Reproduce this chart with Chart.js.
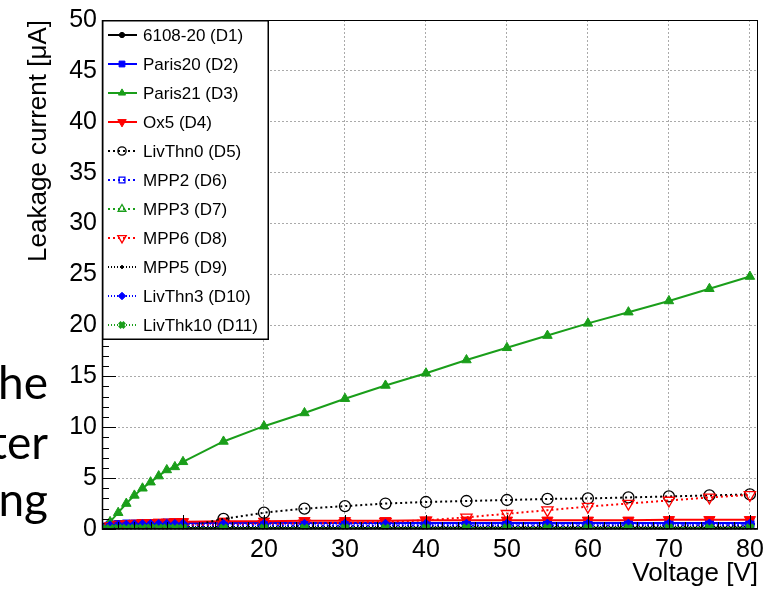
<!DOCTYPE html>
<html>
<head>
<meta charset="utf-8">
<script src="https://cdn.jsdelivr.net/npm/chart.js@4/dist/chart.umd.min.js"></script>
<style>
  body { margin: 0; background: #fff; overflow: hidden; }
  #wrap { position: relative; width: 777px; height: 589px; }
  .slide { position: absolute; right: 729px; width: 200px; text-align: right;
           font-family: Lato, "Liberation Sans", sans-serif; font-size: 46px; line-height: 46px; color: #000; }
</style>
</head>
<body>
<div id="wrap">
  <canvas id="myChart" width="777" height="589"></canvas>
  <div class="slide" style="top:359px">he</div>
  <div class="slide" style="top:419px">ter</div>
  <div class="slide" style="top:476px">ing</div>
</div>
<script>
// bias voltages [V]
const voltages = [0, 1, 2, 3, 4, 5, 6, 7, 8, 9, 10, 15, 20, 25, 30, 35, 40, 45, 50, 55, 60, 65, 70, 75, 80];

// leakage current [uA] per device
const d1_6108_20 = [0.02, 0.04, 0.05, 0.06, 0.06, 0.07, 0.07, 0.08, 0.08, 0.08, 0.09, 0.10, 0.10, 0.11, 0.11, 0.11, 0.12, 0.12, 0.12, 0.12, 0.13, 0.13, 0.13, 0.13, 0.14];
const d2_paris20 = [0.2, 0.4, 0.45, 0.5, 0.5, 0.55, 0.55, 0.55, 0.6, 0.6, 0.6, 0.6, 0.6, 0.6, 0.6, 0.6, 0.6, 0.6, 0.6, 0.6, 0.6, 0.6, 0.6, 0.6, 0.6];
const d3_paris21 = [0.1, 0.7, 1.6, 2.5, 3.3, 4.0, 4.6, 5.2, 5.8, 6.1, 6.6, 8.6, 10.1, 11.4, 12.8, 14.1, 15.3, 16.6, 17.8, 19.0, 20.2, 21.3, 22.4, 23.6, 24.8];
const d4_ox5 = [0.1, 0.3, 0.45, 0.5, 0.55, 0.6, 0.6, 0.65, 0.65, 0.7, 0.7, 0.75, 0.75, 0.8, 0.8, 0.8, 0.85, 0.85, 0.85, 0.85, 0.85, 0.85, 0.9, 0.9, 0.9];
const d5_livthn0 = [0.0, 0.02, 0.03, 0.04, 0.05, 0.06, 0.07, 0.08, 0.09, 0.1, 0.12, 1.0, 1.6, 2.0, 2.25, 2.5, 2.65, 2.75, 2.85, 2.95, 3.0, 3.1, 3.2, 3.3, 3.4];
const d6_mpp2 = [0.05, 0.15, 0.2, 0.22, 0.24, 0.25, 0.26, 0.27, 0.28, 0.29, 0.3, 0.3, 0.32, 0.32, 0.33, 0.33, 0.34, 0.34, 0.35, 0.35, 0.35, 0.36, 0.36, 0.36, 0.37];
const d7_mpp3 = [0.0, 0.02, 0.03, 0.03, 0.04, 0.04, 0.04, 0.05, 0.05, 0.05, 0.05, 0.06, 0.06, 0.06, 0.06, 0.07, 0.07, 0.07, 0.07, 0.07, 0.08, 0.08, 0.08, 0.08, 0.08];
const d8_mpp6 = [0.05, 0.15, 0.2, 0.25, 0.28, 0.3, 0.32, 0.34, 0.36, 0.38, 0.4, 0.45, 0.5, 0.55, 0.6, 0.7, 0.85, 1.15, 1.5, 1.85, 2.2, 2.5, 2.8, 3.1, 3.35];
const d9_mpp5 = [0.03, 0.1, 0.13, 0.15, 0.16, 0.17, 0.18, 0.18, 0.19, 0.19, 0.2, 0.2, 0.21, 0.21, 0.22, 0.22, 0.22, 0.23, 0.23, 0.23, 0.23, 0.24, 0.24, 0.24, 0.25];
const d10_livthn3 = [0.1, 0.3, 0.35, 0.38, 0.4, 0.42, 0.43, 0.44, 0.45, 0.45, 0.46, 0.46, 0.46, 0.46, 0.47, 0.47, 0.47, 0.47, 0.48, 0.48, 0.48, 0.48, 0.48, 0.49, 0.49];
const d11_livthk10 = [0.0, 0.03, 0.04, 0.05, 0.05, 0.06, 0.06, 0.06, 0.07, 0.07, 0.07, 0.07, 0.08, 0.08, 0.08, 0.08, 0.08, 0.09, 0.09, 0.09, 0.09, 0.09, 0.1, 0.1, 0.1];

const deviceLabels = ['6108-20 (D1)', 'Paris20 (D2)', 'Paris21 (D3)', 'Ox5 (D4)', 'LivThn0 (D5)', 'MPP2 (D6)',
  'MPP3 (D7)', 'MPP6 (D8)', 'MPP5 (D9)', 'LivThn3 (D10)', 'LivThk10 (D11)'];
const deviceValues = [d1_6108_20, d2_paris20, d3_paris21, d4_ox5, d5_livthn0, d6_mpp2,
  d7_mpp3, d8_mpp6, d9_mpp5, d10_livthn3, d11_livthk10];

const yTicks = [0, 5, 10, 15, 20, 25, 30, 35, 40, 45, 50];
const xTicks = [20, 30, 40, 50, 60, 70, 80];

const BLACK = '#000000', BLUE = '#0000ff', GREEN = '#1a9e1a', RED = '#ff0000', NONE = 'rgba(0,0,0,0)';
const DOT = [2, 3];
// look of each graph, same order as the labels
const looks = [
  { c: BLACK, dash: [], ps: 'circle', r: 3.5, fill: BLACK, bw: 1 },
  { c: BLUE, dash: [], ps: 'rect', r: 5.5, fill: BLUE, bw: 1 },
  { c: GREEN, dash: [], ps: 'triangle', r: 5.5, fill: GREEN, bw: 1 },
  { c: RED, dash: [], ps: 'triangle', r: 6.5, fill: RED, bw: 1, rot: 180 },
  { c: BLACK, dash: DOT, ps: 'circle', r: 5.5, fill: NONE, bw: 1.3 },
  { c: BLUE, dash: DOT, ps: 'rect', r: 5.5, fill: NONE, bw: 1.3 },
  { c: GREEN, dash: DOT, ps: 'triangle', r: 6, fill: NONE, bw: 1.3 },
  { c: RED, dash: DOT, ps: 'triangle', r: 6.5, fill: NONE, bw: 1.3, rot: 180 },
  { c: BLACK, dash: [1, 2], ps: 'rectRot', r: 2.5, fill: BLACK, bw: 1 },
  { c: BLUE, dash: [1, 2], ps: 'rectRot', r: 5, fill: BLUE, bw: 1 },
  { c: GREEN, dash: [1, 2], ps: 'crossRot', r: 5, fill: GREEN, bw: 3.5 }
];

const datasets = deviceLabels.map((label, i) => {
  const lk = looks[i];
  return {
    label: label,
    data: voltages.map((v, k) => ({ x: v, y: deviceValues[i][k] })),
    borderColor: lk.c,
    borderWidth: 2,
    borderDash: lk.dash,
    pointStyle: lk.ps,
    pointRadius: lk.r,
    pointRotation: lk.rot || 0,
    pointBackgroundColor: lk.fill,
    pointBorderColor: lk.c,
    pointBorderWidth: lk.bw,
    tension: 0,
    fill: false,
    order: deviceLabels.length - i  // later graphs drawn on top, like ROOT
  };
});

// inward ticks, frame and the boxed legend inside the plot
const rootFrame = {
  id: 'rootFrame',
  afterDatasetsDraw(chart) {
    const { ctx, chartArea: a, scales: { x, y } } = chart;
    ctx.save();
    ctx.strokeStyle = '#000';
    ctx.lineWidth = 1;
    ctx.setLineDash([]);
    ctx.beginPath();
    for (let v = 0; v <= 50; v += 1) {
      const py = Math.round(y.getPixelForValue(v)) + 0.5;
      const len = v % 5 === 0 ? 14 : 7;
      ctx.moveTo(a.left, py); ctx.lineTo(a.left + len, py);
    }
    for (let v = 0; v <= 80; v += 2) {
      const px = Math.round(x.getPixelForValue(v)) + 0.5;
      const len = v % 10 === 0 ? 14 : 7;
      ctx.moveTo(px, a.bottom); ctx.lineTo(px, a.bottom - len);
    }
    ctx.stroke();
    ctx.strokeRect(a.left + 0.5, a.top + 0.5, a.width - 1, a.height - 1);
    ctx.lineWidth = 1.5;
    ctx.beginPath();
    ctx.moveTo(a.left + 0.5, a.top); ctx.lineTo(a.left + 0.5, a.bottom);
    ctx.lineTo(a.right, a.bottom);
    ctx.stroke();

    // legend box
    const lx = a.left, ly = a.top, lw = 167, lh = 320;
    ctx.fillStyle = '#fff';
    ctx.fillRect(lx, ly, lw, lh);
    ctx.lineWidth = 1.5;
    ctx.strokeStyle = '#000';
    ctx.strokeRect(lx + 0.75, ly + 0.75, lw - 1.5, lh - 1.5);
    chart.data.datasets.forEach((ds, i) => {
      const cy = ly + 15 + 29 * i;
      ctx.setLineDash(ds.borderDash);
      ctx.strokeStyle = ds.borderColor;
      ctx.lineWidth = 2;
      ctx.beginPath(); ctx.moveTo(lx + 6, cy); ctx.lineTo(lx + 35, cy); ctx.stroke();
      ctx.setLineDash([]);
      ctx.fillStyle = ds.pointBackgroundColor;
      ctx.strokeStyle = ds.pointBorderColor;
      ctx.lineWidth = ds.pointBorderWidth;
      Chart.helpers.drawPoint(ctx, {
        pointStyle: ds.pointStyle, rotation: ds.pointRotation,
        radius: ds.pointRadius * 0.75, borderWidth: ds.pointBorderWidth
      }, lx + 20, cy);
      ctx.fillStyle = '#000';
      ctx.font = '17px "Liberation Sans", Arial, sans-serif';
      ctx.textAlign = 'left';
      ctx.textBaseline = 'middle';
      ctx.fillText(ds.label, lx + 41, cy + 1);
    });
    ctx.restore();
  }
};

const axisFont = { family: '"Liberation Sans", Arial, sans-serif', size: 25 };
const titleFont = { family: '"Liberation Sans", Arial, sans-serif', size: 26 };

new Chart(document.getElementById('myChart').getContext('2d'), {
  type: 'line',
  data: { datasets: datasets },
  plugins: [rootFrame],
  options: {
    responsive: false,
    animation: false,
    devicePixelRatio: 1,
    layout: { padding: { top: 18, right: 19, left: 0, bottom: 0 } },
    plugins: { legend: { display: false }, tooltip: { enabled: false } },
    scales: {
      x: {
        type: 'linear', min: 0, max: 81,
        afterBuildTicks: s => { s.ticks = xTicks.map(v => ({ value: v })); },
        afterFit: s => { s.height = 60; },
        ticks: { font: axisFont, color: '#000', padding: 6, maxRotation: 0, autoSkip: false },
        grid: { color: '#aaa', drawTicks: false, lineWidth: 1 },
        border: { display: false, dash: [2, 2] },
        title: { display: true, text: 'Voltage [V]', align: 'end', font: titleFont, color: '#000', padding: 0 }
      },
      y: {
        type: 'linear', min: 0, max: 50,
        afterBuildTicks: s => { s.ticks = yTicks.map(v => ({ value: v })); },
        afterFit: s => { s.width = 102; },
        ticks: { font: axisFont, color: '#000', padding: 5 },
        grid: { color: '#aaa', drawTicks: false, lineWidth: 1 },
        border: { display: false, dash: [2, 2] },
        title: { display: true, text: 'Leakage current [\u03bcA]', align: 'end', font: titleFont, color: '#000', padding: { top: 23, bottom: 0 } }
      }
    }
  }
});
</script>
</body>
</html>
